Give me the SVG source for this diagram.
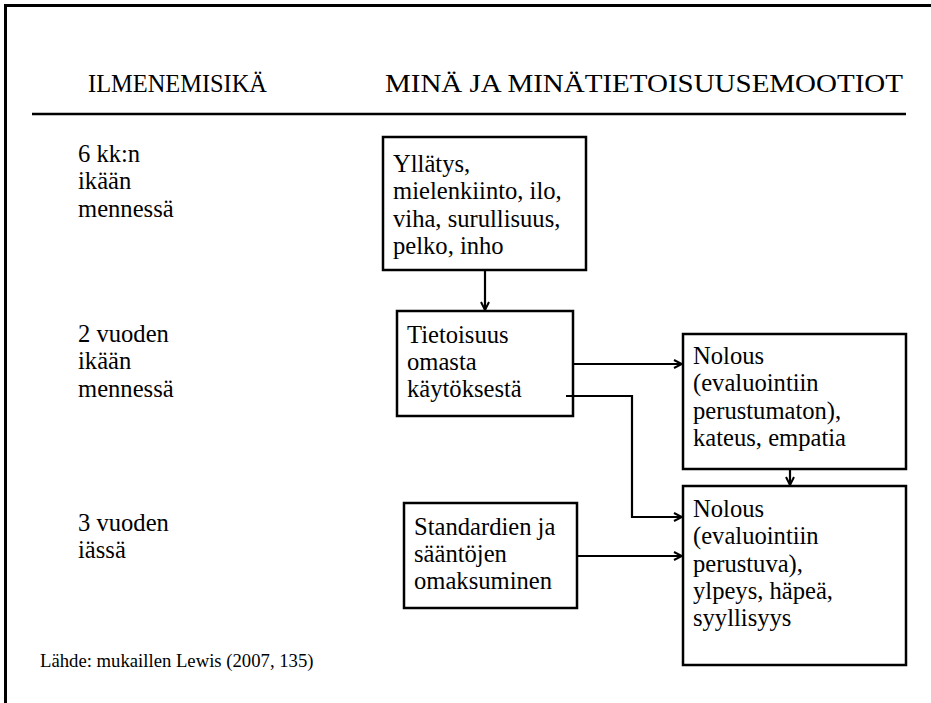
<svg xmlns="http://www.w3.org/2000/svg" width="931" height="703" viewBox="0 0 931 703" font-family="'Liberation Serif', 'Times New Roman', serif">
<style>
text{font-family:"Liberation Serif","Times New Roman",serif;fill:#000;font-size:24.6px}
.hd{font-size:26px}
.src{font-size:18.7px}
.box{fill:#fff;stroke:#000;stroke-width:2.5}
.frame{fill:none;stroke:#000;stroke-width:3}
.con{fill:none;stroke:#000;stroke-width:2.2}
</style>
<defs>
<marker id="ah" viewBox="0 0 10 10" refX="9" refY="5" markerWidth="10" markerHeight="10" markerUnits="userSpaceOnUse" orient="auto">
<path d="M1,1 L9,5 L1,9" fill="none" stroke="#000" stroke-width="2"/>
</marker>
</defs>
<rect width="931" height="703" fill="#fff"/>
<path class="frame" d="M5.5,703 V5.5 H931"/>
<line x1="32" y1="114" x2="906" y2="114" stroke="#000" stroke-width="2.5"/>
<g id="headers">
<text class="hd" x="88" y="92" textLength="179" lengthAdjust="spacingAndGlyphs">ILMENEMISIKÄ</text>
<text class="hd" x="385" y="92" textLength="518" lengthAdjust="spacingAndGlyphs">MINÄ JA MINÄTIETOISUUSEMOOTIOT</text>
</g>
<g id="ages">
<text><tspan x="78" y="162">6 kk:n</tspan><tspan x="78" y="189.3">ikään</tspan><tspan x="78" y="216.6">mennessä</tspan></text>
<text><tspan x="78" y="342">2 vuoden</tspan><tspan x="78" y="369.3">ikään</tspan><tspan x="78" y="396.6">mennessä</tspan></text>
<text><tspan x="78" y="531">3 vuoden</tspan><tspan x="78" y="558.3">iässä</tspan></text>
</g>
<g id="n1">
<rect class="box" x="383" y="137" width="203" height="133"/>
<text><tspan x="393" y="172">Yllätys,</tspan><tspan x="393" y="199.3">mielenkiinto, ilo,</tspan><tspan x="393" y="226.6">viha, surullisuus,</tspan><tspan x="393" y="253.9">pelko, inho</tspan></text>
</g>
<g id="n2">
<rect class="box" x="397" y="311" width="176" height="105"/>
<text><tspan x="407" y="342.5">Tietoisuus</tspan><tspan x="407" y="369.8">omasta</tspan><tspan x="407" y="397.1">käytöksestä</tspan></text>
</g>
<g id="n3">
<rect class="box" x="683" y="334" width="223" height="135"/>
<text><tspan x="693" y="364">Nolous</tspan><tspan x="693" y="391.3">(evaluointiin</tspan><tspan x="693" y="418.6">perustumaton),</tspan><tspan x="693" y="445.9">kateus, empatia</tspan></text>
</g>
<g id="n4">
<rect class="box" x="404" y="503" width="173" height="105"/>
<text><tspan x="414" y="534.5">Standardien ja</tspan><tspan x="414" y="561.8">sääntöjen</tspan><tspan x="414" y="589.1">omaksuminen</tspan></text>
</g>
<g id="n5">
<rect class="box" x="683" y="486" width="223" height="179"/>
<text><tspan x="693" y="517">Nolous</tspan><tspan x="693" y="544.3">(evaluointiin</tspan><tspan x="693" y="571.6">perustuva),</tspan><tspan x="693" y="598.9">ylpeys, häpeä,</tspan><tspan x="693" y="626.2">syyllisyys</tspan></text>
</g>
<g id="connectors">
<line class="con" x1="485" y1="270" x2="485" y2="310" marker-end="url(#ah)"/>
<line class="con" x1="573" y1="364" x2="682" y2="364" marker-end="url(#ah)"/>
<polyline class="con" points="566,396 632,396 632,517 682,517" marker-end="url(#ah)"/>
<line class="con" x1="790" y1="469" x2="790" y2="485" marker-end="url(#ah)"/>
<line class="con" x1="577" y1="556" x2="682" y2="556" marker-end="url(#ah)"/>
</g>
<g id="source">
<text class="src" x="40" y="667">Lähde: mukaillen Lewis (2007, 135)</text>
</g>
</svg>
